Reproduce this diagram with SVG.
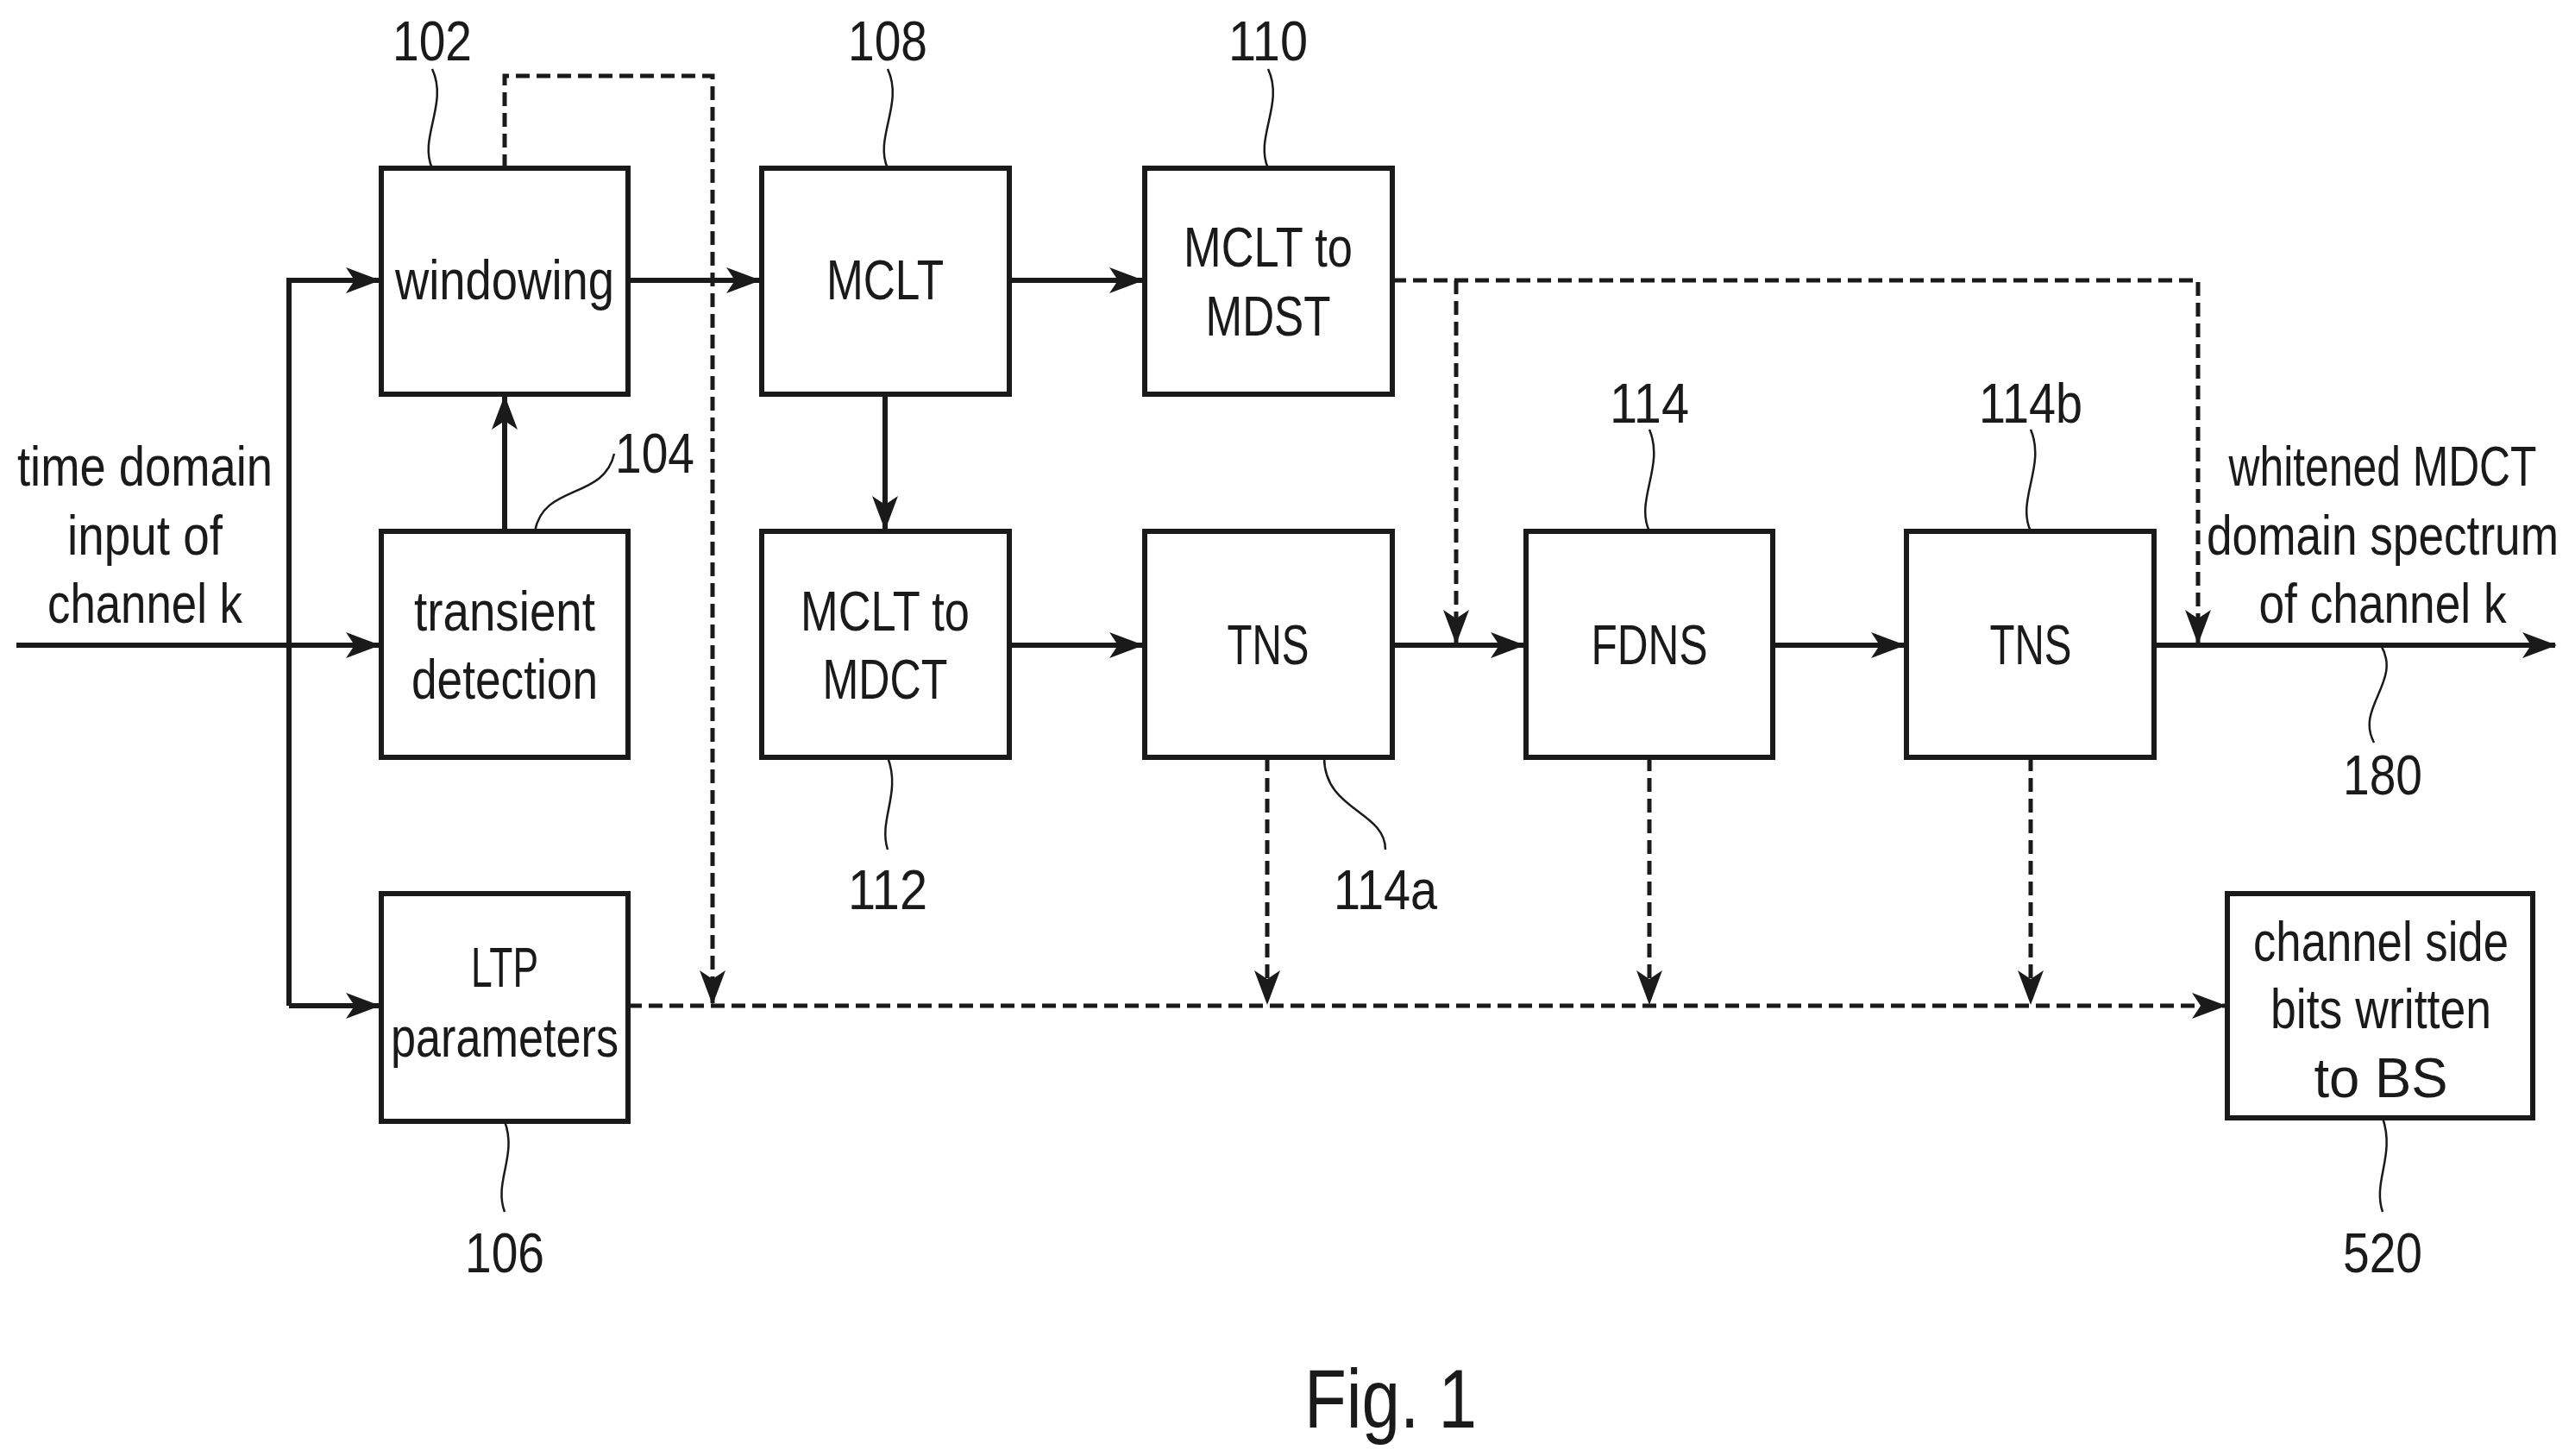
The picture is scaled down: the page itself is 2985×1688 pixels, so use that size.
<svg xmlns="http://www.w3.org/2000/svg" width="2985" height="1688" viewBox="0 0 2985 1688">
<style>
.box{fill:#fff;stroke:#1a1a1a;stroke-width:6}
text{font-family:"Liberation Sans Narrow","Liberation Sans",sans-serif;font-size:64px;fill:#1a1a1a;text-anchor:middle}
.ln{fill:none;stroke:#1a1a1a;stroke-width:6}
.ds{fill:none;stroke:#1a1a1a;stroke-width:5;stroke-dasharray:16 8}
.sq{fill:none;stroke:#1a1a1a;stroke-width:2.5}
</style>
<defs>
<marker id="ah" markerWidth="40" markerHeight="30" viewBox="0 0 40 30" refX="38" refY="15" orient="auto" markerUnits="userSpaceOnUse">
<path d="M0,0 L40,15 L0,30 L10,15 Z" fill="#1a1a1a"/>
</marker>
</defs>
<g id="connectors">
<path class="ln" d="M19,748 H439" marker-end="url(#ah)"/>
<path class="ln" d="M335,1166 V325 H439" marker-end="url(#ah)"/>
<path class="ln" d="M335,1166 H439" marker-end="url(#ah)"/>
<path class="ln" d="M585,616 V460" marker-end="url(#ah)"/>
<path class="ln" d="M728,325 H880" marker-end="url(#ah)"/>
<path class="ln" d="M1170,325 H1324" marker-end="url(#ah)"/>
<path class="ln" d="M1026,457 V613" marker-end="url(#ah)"/>
<path class="ln" d="M1170,748 H1324" marker-end="url(#ah)"/>
<path class="ln" d="M1614,748 H1766" marker-end="url(#ah)"/>
<path class="ln" d="M2055,748 H2207" marker-end="url(#ah)"/>
<path class="ln" d="M2497,748 H2962" marker-end="url(#ah)"/>
<path class="ds" d="M585,195 V88 H826 V1163" marker-end="url(#ah)"/>
<path class="ds" d="M1614,325 H2548 V745" marker-end="url(#ah)"/>
<path class="ds" d="M1688,325 V745" marker-end="url(#ah)"/>
<path class="ds" d="M1469,878 V1163" marker-end="url(#ah)"/>
<path class="ds" d="M1912,878 V1163" marker-end="url(#ah)"/>
<path class="ds" d="M2354,878 V1163" marker-end="url(#ah)"/>
<path class="ds" d="M728,1166 H2579" marker-end="url(#ah)"/>
</g>
<g id="leaders">
<path class="sq" d="M501,80 C520,120 485,160 501,195"/>
<path class="sq" d="M1029,80 C1048,120 1013,160 1029,195"/>
<path class="sq" d="M1470,80 C1489,120 1454,160 1470,195"/>
<path class="sq" d="M620,616 C630,560 700,580 712,526"/>
<path class="sq" d="M1912,498 C1930,540 1895,580 1912,616"/>
<path class="sq" d="M2354,498 C2372,540 2337,580 2354,616"/>
<path class="sq" d="M2760,748 C2785,790 2730,820 2752,861"/>
<path class="sq" d="M1029,878 C1045,920 1018,950 1029,985"/>
<path class="sq" d="M1535,878 C1535,940 1606,940 1606,985"/>
<path class="sq" d="M585,1300 C600,1340 572,1370 585,1405"/>
<path class="sq" d="M2762,1296 C2777,1340 2750,1370 2762,1405"/>
</g>
<g id="windowing"><rect class="box" x="442" y="195" width="286" height="262"/><text x="585" y="347" textLength="254" lengthAdjust="spacingAndGlyphs">windowing</text></g>
<g id="transient"><rect class="box" x="442" y="616" width="286" height="262"/><text x="585" y="731" textLength="210" lengthAdjust="spacingAndGlyphs">transient</text><text x="585" y="810" textLength="216" lengthAdjust="spacingAndGlyphs">detection</text></g>
<g id="ltp"><rect class="box" x="442" y="1036" width="286" height="264"/><text x="585" y="1144" textLength="78" lengthAdjust="spacingAndGlyphs">LTP</text><text x="585" y="1225" textLength="264" lengthAdjust="spacingAndGlyphs">parameters</text></g>
<g id="mclt"><rect class="box" x="883" y="195" width="287" height="262"/><text x="1026" y="347" textLength="136" lengthAdjust="spacingAndGlyphs">MCLT</text></g>
<g id="mdct"><rect class="box" x="883" y="616" width="287" height="262"/><text x="1026" y="731" textLength="196" lengthAdjust="spacingAndGlyphs">MCLT to</text><text x="1026" y="810" textLength="145" lengthAdjust="spacingAndGlyphs">MDCT</text></g>
<g id="mdst"><rect class="box" x="1327" y="195" width="287" height="262"/><text x="1470" y="309" textLength="196" lengthAdjust="spacingAndGlyphs">MCLT to</text><text x="1470" y="389" textLength="145" lengthAdjust="spacingAndGlyphs">MDST</text></g>
<g id="tns1"><rect class="box" x="1327" y="616" width="287" height="262"/><text x="1470" y="770" textLength="95" lengthAdjust="spacingAndGlyphs">TNS</text></g>
<g id="fdns"><rect class="box" x="1769" y="616" width="286" height="262"/><text x="1912" y="770" textLength="135" lengthAdjust="spacingAndGlyphs">FDNS</text></g>
<g id="tns2"><rect class="box" x="2210" y="616" width="287" height="262"/><text x="2354" y="770" textLength="95" lengthAdjust="spacingAndGlyphs">TNS</text></g>
<g id="side"><rect class="box" x="2582" y="1036" width="354" height="260"/><text x="2760" y="1114" textLength="296" lengthAdjust="spacingAndGlyphs">channel side</text><text x="2760" y="1192" textLength="256" lengthAdjust="spacingAndGlyphs">bits written</text><text x="2760" y="1272" textLength="155" lengthAdjust="spacingAndGlyphs">to BS</text></g>
<g id="labels">
<text x="168" y="563" textLength="296" lengthAdjust="spacingAndGlyphs">time domain</text><text x="168" y="643" textLength="180" lengthAdjust="spacingAndGlyphs">input of</text><text x="168" y="722" textLength="226" lengthAdjust="spacingAndGlyphs">channel k</text>
<text x="2762" y="563" textLength="357" lengthAdjust="spacingAndGlyphs">whitened MDCT</text><text x="2762" y="643" textLength="408" lengthAdjust="spacingAndGlyphs">domain spectrum</text><text x="2762" y="722" textLength="287" lengthAdjust="spacingAndGlyphs">of channel k</text>
<text x="501" y="70" textLength="92" lengthAdjust="spacingAndGlyphs">102</text><text x="1029" y="70" textLength="92" lengthAdjust="spacingAndGlyphs">108</text><text x="1470" y="70" textLength="92" lengthAdjust="spacingAndGlyphs">110</text>
<text x="759" y="548" textLength="92" lengthAdjust="spacingAndGlyphs">104</text><text x="1912" y="490" textLength="92" lengthAdjust="spacingAndGlyphs">114</text><text x="2354" y="490" textLength="120" lengthAdjust="spacingAndGlyphs">114b</text>
<text x="2762" y="921" textLength="92" lengthAdjust="spacingAndGlyphs">180</text><text x="1029" y="1054" textLength="92" lengthAdjust="spacingAndGlyphs">112</text><text x="1606" y="1054" textLength="120" lengthAdjust="spacingAndGlyphs">114a</text>
<text x="585" y="1475" textLength="92" lengthAdjust="spacingAndGlyphs">106</text><text x="2762" y="1475" textLength="92" lengthAdjust="spacingAndGlyphs">520</text>
<text x="1612" y="1655" style="font-size:96px" textLength="200" lengthAdjust="spacingAndGlyphs">Fig. 1</text>
</g>
</svg>
